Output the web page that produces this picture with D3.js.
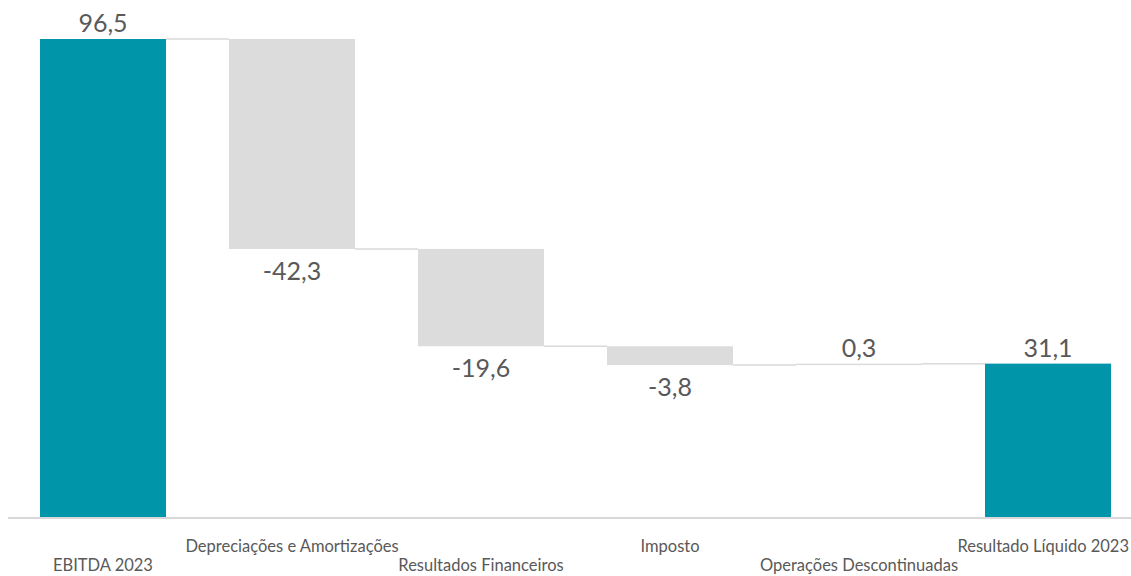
<!DOCTYPE html>
<html><head><meta charset="utf-8">
<script src="https://cdn.jsdelivr.net/npm/d3@7"></script>
<style>body{margin:0;background:#fff;overflow:hidden}svg{display:block}</style>
</head><body>
<svg id="c" width="1131" height="576"></svg>
<script>
const categories = ["EBITDA 2023","Depreciações e Amortizações","Resultados Financeiros","Imposto","Operações Descontinuadas","Resultado Líquido 2023"];
const values = [96.5, -42.3, -19.6, -3.8, 0.3, 31.1];
const isTotal = [true, false, false, false, false, true];
const valueLabels = ["96,5","-42,3","-19,6","-3,8","0,3","31,1"];

const svg = d3.select("#c");
const x = d3.scaleBand().domain(categories).range([8.5, 1142.5]).paddingInner(1/3).paddingOuter(1/6);
const y = d3.scaleLinear().domain([0, 96.5]).range([518, 39]);

let run = 0;
const bars = categories.map((c, i) => {
  let start, end;
  if (isTotal[i]) { start = 0; end = values[i]; run = values[i]; }
  else { start = run; end = run + values[i]; run = end; }
  return {c, i, start, end, v: values[i]};
});

bars.slice(0, -1).forEach((b, i) => {
  const nb = bars[i+1];
  svg.append("line")
    .attr("x1", x(b.c) + x.bandwidth()).attr("x2", x(nb.c))
    .attr("y1", y(b.end)).attr("y2", y(b.end))
    .attr("stroke", "#d9d9d9").attr("stroke-width", 1.5);
});

svg.selectAll("rect.bar").data(bars).join("rect")
  .attr("x", d => x(d.c)).attr("width", x.bandwidth())
  .attr("y", d => y(Math.max(d.start, d.end)))
  .attr("height", d => Math.max(1.5, Math.abs(y(d.start) - y(d.end))))
  .attr("fill", d => isTotal[d.i] ? "#0095a8" : "#dcdcdc");

const xAxis = d3.axisBottom(x).tickSize(0).tickFormat("");
const ax = svg.append("g").attr("transform", "translate(0,518)").call(xAxis);
ax.select(".domain").attr("d", "M8,0H1131").attr("stroke", "#d9d9d9").attr("stroke-width", 2);

svg.selectAll("text.val").data(bars).join("text")
  .attr("x", d => x(d.c) + x.bandwidth()/2)
  .attr("y", d => d.v < 0 ? y(d.end) + 31 : y(Math.max(d.start, d.end)) - 7)
  .attr("text-anchor", "middle")
  .attr("font-family", "Lato, 'Open Sans', sans-serif")
  .attr("font-size", 25).attr("fill", "#595959")
  .text(d => valueLabels[d.i]);

svg.selectAll("text.cat").data(categories).join("text")
  .attr("x", d => x(d) + x.bandwidth()/2)
  .attr("y", (d, i) => i % 2 === 0 ? 571 : 552)
  .attr("text-anchor", "middle")
  .attr("font-family", "Lato, 'Open Sans', sans-serif")
  .attr("font-size", 16.5).attr("fill", "#595959")
  .text(d => d)
  .each(function() {
    const bb = this.getBBox();
    const over = bb.x + bb.width - 1129;
    if (over > 0) d3.select(this).attr("x", +d3.select(this).attr("x") - over);
  });
</script>
</body></html>
